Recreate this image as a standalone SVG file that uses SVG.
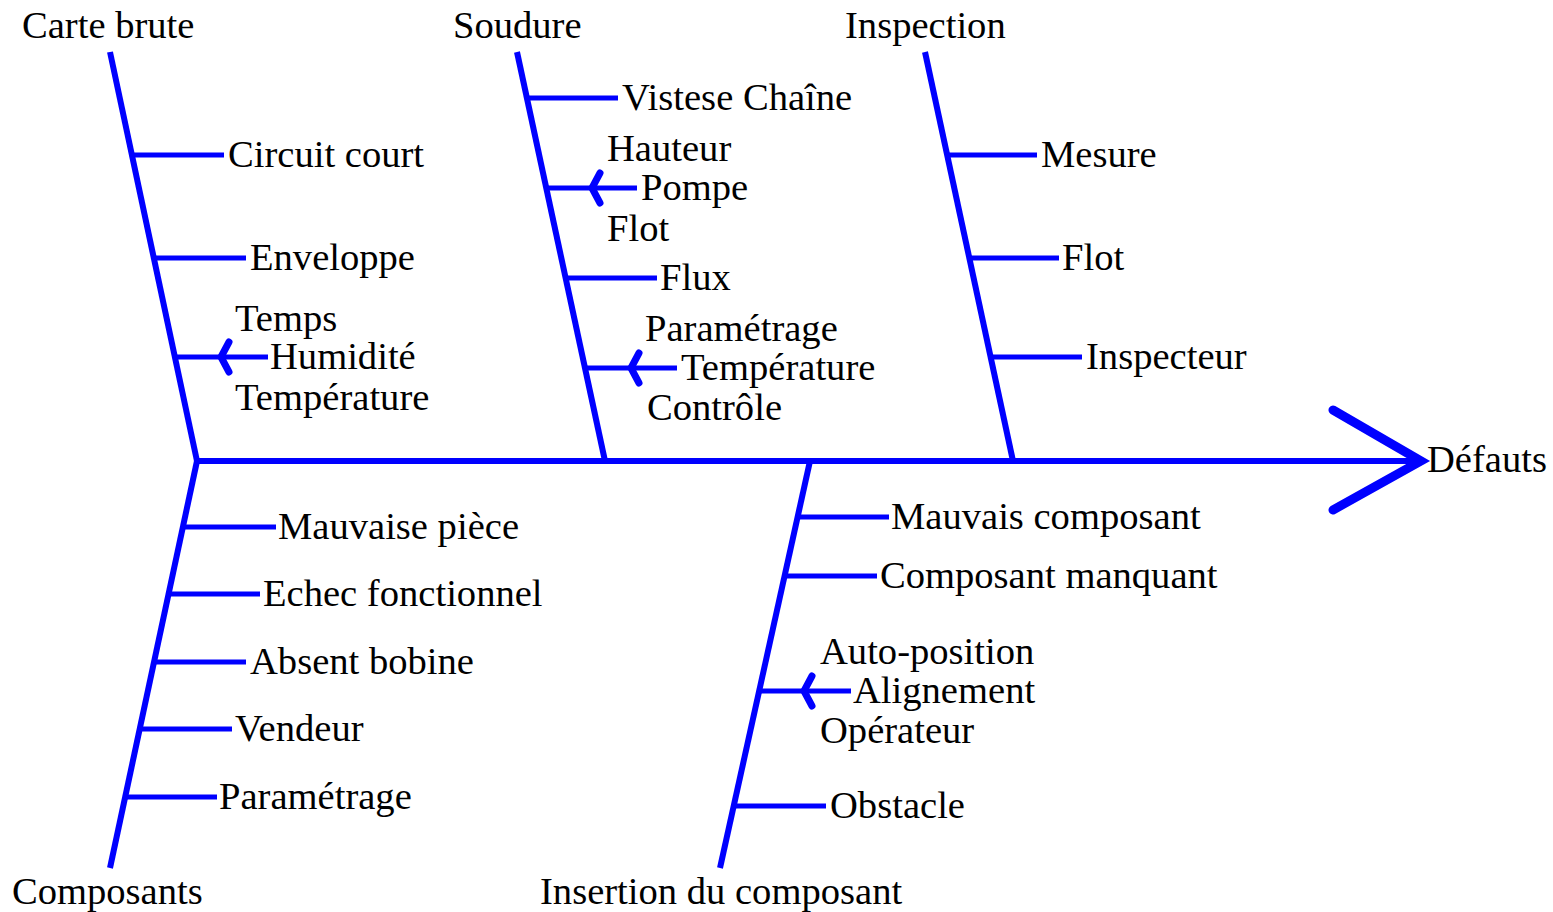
<svg xmlns="http://www.w3.org/2000/svg" width="1553" height="912" viewBox="0 0 1553 912">
<style>
text{font-family:"Liberation Serif","Times New Roman",serif;font-size:38.6px;fill:#000}
.bone{stroke:#0000ff;stroke-width:6;fill:none;stroke-linecap:butt}
.sub{stroke:#0000ff;stroke-width:5;fill:none}
.ah{stroke:#0000ff;stroke-width:7;fill:none;stroke-linejoin:round;stroke-linecap:round}
.head{stroke:#0000ff;stroke-width:9;fill:none;stroke-linecap:round}
</style>
<rect width="1553" height="912" fill="#fff"/>
<g id="connectors">
<line class="bone" x1="197" y1="461" x2="1422" y2="461"/>
<polyline class="head" points="1333,410 1421,461 1333,510"/>
<line class="bone" x1="110" y1="52" x2="197" y2="461"/>
<line class="bone" x1="517" y1="52" x2="605" y2="461"/>
<line class="bone" x1="925" y1="52" x2="1013" y2="461"/>
<line class="bone" x1="197" y1="461" x2="110" y2="868"/>
<line class="bone" x1="810" y1="461" x2="720" y2="868"/>
</g>
<g id="carte-brute">
<text x="22" y="38">Carte brute</text>
<line class="sub" x1="131" y1="155" x2="224" y2="155"/><text x="228" y="167">Circuit court</text>
<line class="sub" x1="153" y1="258" x2="246" y2="258"/><text x="250" y="270">Enveloppe</text>
<line class="sub" x1="174" y1="357" x2="268" y2="357"/><polyline class="ah" points="229,342 221,357 229,372"/>
<text x="235" y="331">Temps</text><text x="270" y="369">Humidité</text><text x="235" y="410">Température</text>
</g>
<g id="soudure">
<text x="453" y="38">Soudure</text>
<line class="sub" x1="527" y1="98" x2="618" y2="98"/><text x="622" y="110">Vistese Chaîne</text>
<line class="sub" x1="547" y1="188" x2="637" y2="188"/><polyline class="ah" points="600,173 592,188 600,203"/>
<text x="607" y="161">Hauteur</text><text x="641" y="200">Pompe</text><text x="607" y="241">Flot</text>
<line class="sub" x1="566" y1="278" x2="657" y2="278"/><text x="660" y="290">Flux</text>
<line class="sub" x1="585" y1="368" x2="677" y2="368"/><polyline class="ah" points="639,353 631,368 639,383"/>
<text x="645" y="341">Paramétrage</text><text x="681" y="380">Température</text><text x="647" y="420">Contrôle</text>
</g>
<g id="inspection">
<text x="845" y="38">Inspection</text>
<line class="sub" x1="946" y1="155" x2="1037" y2="155"/><text x="1041" y="167">Mesure</text>
<line class="sub" x1="968" y1="258" x2="1059" y2="258"/><text x="1062" y="270">Flot</text>
<line class="sub" x1="990" y1="357" x2="1082" y2="357"/><text x="1086" y="369">Inspecteur</text>
</g>
<g id="composants">
<text x="12" y="904">Composants</text>
<line class="sub" x1="183" y1="527" x2="276" y2="527"/><text x="278" y="539">Mauvaise pièce</text>
<line class="sub" x1="168" y1="594" x2="260" y2="594"/><text x="263" y="606">Echec fonctionnel</text>
<line class="sub" x1="154" y1="662" x2="246" y2="662"/><text x="250" y="674">Absent bobine</text>
<line class="sub" x1="140" y1="729" x2="232" y2="729"/><text x="235" y="741">Vendeur</text>
<line class="sub" x1="125" y1="797" x2="217" y2="797"/><text x="219" y="809">Paramétrage</text>
</g>
<g id="insertion">
<text x="540" y="904">Insertion du composant</text>
<line class="sub" x1="797" y1="517" x2="889" y2="517"/><text x="891" y="529">Mauvais composant</text>
<line class="sub" x1="784" y1="576" x2="877" y2="576"/><text x="880" y="588">Composant manquant</text>
<line class="sub" x1="759" y1="691" x2="851" y2="691"/><polyline class="ah" points="812,676 804,691 812,706"/>
<text x="820" y="664">Auto-position</text><text x="853" y="703">Alignement</text><text x="820" y="743">Opérateur</text>
<line class="sub" x1="734" y1="806" x2="826" y2="806"/><text x="830" y="818">Obstacle</text>
</g>
<g id="defauts"><text x="1427" y="472">Défauts</text></g>
</svg>
